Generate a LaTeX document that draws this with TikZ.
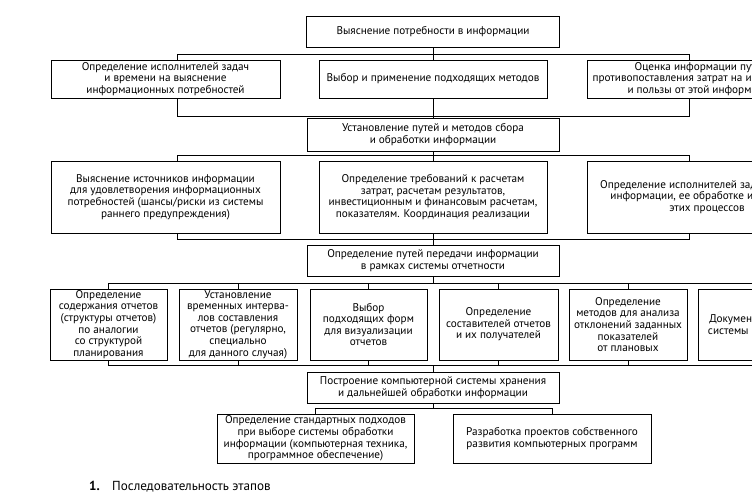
\documentclass[tikz,border=0pt]{standalone}
\usepackage{fontspec}
\setmainfont{PT Sans}
\begin{document}
\begin{tikzpicture}[x=1pt,y=-1pt,
  box/.style={draw, line width=0.9pt, fill=white, align=center, inner sep=0pt,
    font=\fontsize{11.2}{11.6}\selectfont},
  conn/.style={line width=0.8pt},
  captxt/.style={anchor=base west, inner sep=0pt, font=\fontsize{13.1}{15}\selectfont}]
\useasboundingbox (0,0) rectangle (752,503);
\begin{scope}
\clip (0,0) rectangle (752,503);
% level 0
\node[box, minimum width=253pt, minimum height=31pt] (t0) at (433,31.5) {Выяснение потребности в информации};
% row 1
\node[box, minimum width=229pt, minimum height=38pt] (r1l) at (165.5,79) {Определение исполнителей задач\\и времени на выяснение\\информационных потребностей};
\node[box, minimum width=228pt, minimum height=38pt] (r1m) at (433,79) {Выбор и применение подходящих методов};
\node[box, minimum width=229pt, minimum height=38pt] (r1r) at (701.5,79) {Оценка информации путем\\противопоставления затрат на информацию\\и пользы от этой информации};
% level 1
\node[box, minimum width=252pt, minimum height=33pt] (t1) at (433,134.5) {Установление путей и методов сбора\\и обработки информации};
% row 2
\node[box, minimum width=229pt, minimum height=72pt] (r2l) at (165.5,197) {Выяснение источников информации\\для удовлетворения информационных\\потребностей (шансы/риски из системы\\раннего предупреждения)};
\node[box, minimum width=228pt, minimum height=72pt] (r2m) at (433,197) {Определение требований к расчетам\\затрат, расчетам результатов,\\инвестиционным и финансовым расчетам,\\показателям. Координация реализации};
\node[box, minimum width=240pt, minimum height=72pt] (r2r) at (707,197) {Определение исполнителей задач по сбору\\информации, ее обработке и контролю\\этих процессов};
% level 2
\node[box, minimum width=252pt, minimum height=31pt] (t2) at (433,260.5) {Определение путей передачи информации\\в рамках системы отчетности};
% row 3
\node[box, minimum width=117pt, minimum height=71pt] (r3a) at (108.5,324.5) {Определение\\содержания отчетов\\(структуры отчетов)\\по аналогии\\со структурой\\планирования};
\node[box, minimum width=118pt, minimum height=71pt] (r3b) at (238,324.5) {Установление\\временных интерва-\\лов составления\\отчетов (регулярно,\\специально\\для данного случая)};
\node[box, minimum width=117pt, minimum height=71pt] (r3c) at (368.5,324.5) {Выбор\\подходящих форм\\для визуализации\\отчетов};
\node[box, minimum width=119pt, minimum height=71pt] (r3d) at (498.5,324.5) {Определение\\составителей отчетов\\и их получателей};
\node[box, minimum width=118pt, minimum height=71pt] (r3e) at (628,324.5) {Определение\\методов для анализа\\отклонений заданных\\показателей\\от плановых};
\node[box, minimum width=117pt, minimum height=71pt] (r3f) at (756.5,324.5) {Документирование\\системы отчетности};
% level 3
\node[box, minimum width=252pt, minimum height=31pt] (t3) at (433,387.5) {Построение компьютерной системы хранения\\и дальнейшей обработки информации};
% row 4
\node[box, minimum width=197pt, minimum height=49pt] (r4l) at (315.5,438.5) {Определение стандартных подходов\\при выборе системы обработки\\информации (компьютерная техника,\\программное обеспечение)};
\node[box, minimum width=198pt, minimum height=49pt] (r4r) at (552,438.5) {Разработка проектов собственного\\развития компьютерных программ};

% bus coordinates
\coordinate (b1tl) at (177,54);  \coordinate (b1tr) at (689,54);
\coordinate (b1bl) at (177,116); \coordinate (b1br) at (689,116);
\coordinate (b2tl) at (177,155); \coordinate (b2tr) at (689,155);
\coordinate (b2bl) at (177,239); \coordinate (b2br) at (689,239);
\coordinate (b3t) at (433,283);  \coordinate (b3b) at (433,365);
\coordinate (b4) at (433,408);

% bracket 1
\draw[conn] (t0.south) -- (r1m.north);
\draw[conn] (b1tl|-r1l.north) -- (b1tl) -- (b1tr) -- (b1tr|-r1r.north);
\draw[conn] (b1bl|-r1l.south) -- (b1bl) -- (b1br) -- (b1br|-r1r.south);
\draw[conn] (r1m.south) -- (t1.north);
% bracket 2
\draw[conn] (t1.south) -- (r2m.north);
\draw[conn] (b2tl|-r2l.north) -- (b2tl) -- (b2tr) -- (b2tr|-r2r.north);
\draw[conn] (b2bl|-r2l.south) -- (b2bl) -- (b2br) -- (b2br|-r2r.south);
\draw[conn] (r2m.south) -- (t2.north);
% bracket 3
\draw[conn] (t2.south) -- (b3t);
\draw[conn] (r3a.north) -- (r3a.north|-b3t) -- (r3f.north|-b3t) -- (r3f.north);
\foreach \n in {r3b,r3c,r3d,r3e} \draw[conn] (\n.north) -- (\n.north|-b3t);
\draw[conn] (r3a.south) -- (r3a.south|-b3b) -- (r3f.south|-b3b) -- (r3f.south);
\foreach \n in {r3b,r3c,r3d,r3e} \draw[conn] (\n.south) -- (\n.south|-b3b);
\draw[conn] (b3b) -- (t3.north);
% bracket 4
\draw[conn] (t3.south) -- (b4);
\draw[conn] (r4l.north) -- (r4l.north|-b4) -- (r4r.north|-b4) -- (r4r.north);
\end{scope}
% caption
\node[captxt, font=\fontsize{13.1}{15}\selectfont\bfseries] (num) at (89,490) {1.};
\node[captxt] (cap) at (112,490) {Последовательность этапов};
\end{tikzpicture}
\end{document}
